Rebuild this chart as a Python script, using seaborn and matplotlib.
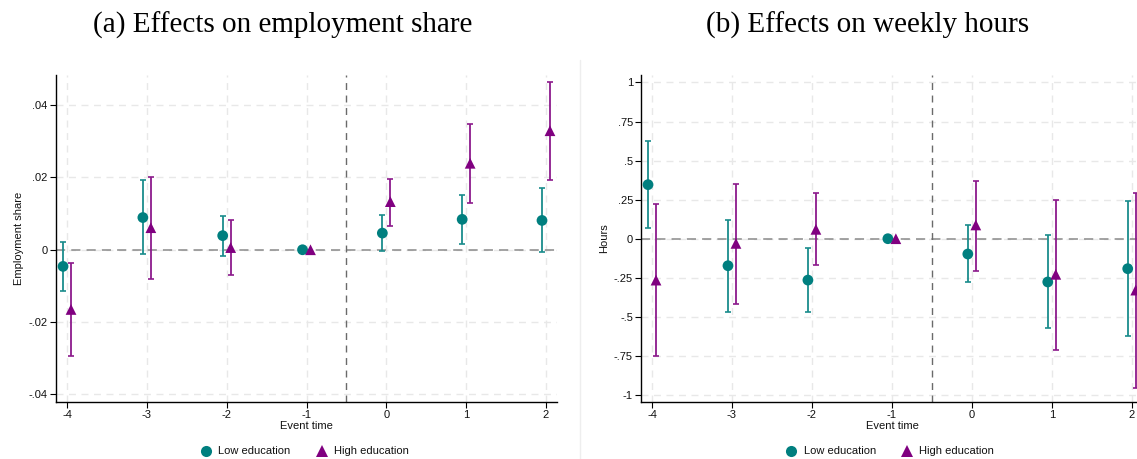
import numpy as np
import pandas as pd
import matplotlib
matplotlib.use("Agg")
import matplotlib.pyplot as plt
import seaborn as sns
from matplotlib.lines import Line2D
from matplotlib.ticker import FuncFormatter, FixedLocator

# ---- data -------------------------------------------------------------
event_time = [-4, -3, -2, -1, 0, 1, 2]
groups = ["Low education", "High education"]

# Employment share: point estimates and 95% CI bounds
emp_low = [-0.0046, 0.0089, 0.0039, 0.0, 0.0046, 0.0084, 0.0081]
emp_low_lo = [-0.0113, -0.0012, -0.0016, 0.0, -0.0004, 0.0017, -0.0006]
emp_low_hi = [0.0022, 0.0192, 0.0094, 0.0, 0.0095, 0.0152, 0.0170]
emp_high = [-0.0165, 0.0061, 0.0006, 0.0, 0.0133, 0.0239, 0.0329]
emp_high_lo = [-0.0294, -0.0081, -0.0071, 0.0, 0.0065, 0.0128, 0.0194]
emp_high_hi = [-0.0036, 0.0201, 0.0081, 0.0, 0.0195, 0.0347, 0.0463]

# Weekly hours: point estimates and 95% CI bounds
hrs_low = [0.346, -0.173, -0.265, 0.0, -0.098, -0.277, -0.192]
hrs_low_lo = [0.070, -0.470, -0.470, 0.0, -0.277, -0.574, -0.623]
hrs_low_hi = [0.623, 0.122, -0.058, 0.0, 0.085, 0.021, 0.241]
hrs_high = [-0.265, -0.030, 0.060, 0.0, 0.088, -0.228, -0.329]
hrs_high_lo = [-0.753, -0.416, -0.166, 0.0, -0.205, -0.711, -0.958]
hrs_high_hi = [0.220, 0.348, 0.290, 0.0, 0.371, 0.248, 0.290]

emp_yticks = [-0.04, -0.02, 0.0, 0.02, 0.04]
hrs_yticks = [-1, -0.75, -0.5, -0.25, 0, 0.25, 0.5, 0.75, 1]

# ---- style ------------------------------------------------------------
sns.set_style("white")
plt.rcParams["font.family"] = ["Liberation Sans", "DejaVu Sans"]
plt.rcParams["axes.unicode_minus"] = False

TEAL = "#007f7f"
PURPLE = "#800080"
TEAL_CI = "#1a8c8c"
PURPLE_CI = "#8c1a8c"
palette = {"Low education": TEAL, "High education": PURPLE}
markers = {"Low education": "o", "High education": "^"}
ci_colors = {"Low education": TEAL_CI, "High education": PURPLE_CI}
dodge = {"Low education": -0.05, "High education": 0.05}


def stata_fmt(v, pos):
    v = round(v, 4)
    if v == 0:
        return "0"
    s = f"{v:g}"
    return s.replace("0.", ".")


def build_frame(series):
    rows = []
    for g, (pt, lo, hi) in series.items():
        for t, p, l, h in zip(event_time, pt, lo, hi):
            rows.append({"event": t, "xpos": t + dodge[g], "group": g,
                         "value": p, "lo": l, "hi": h})
    return pd.DataFrame(rows)


def draw_panel(ax, df, yticks, ylim, xlim, ylabel, ylabel_x, xlabel_x):
    ax.set_xlim(*xlim)
    ax.set_ylim(*ylim)
    ax.xaxis.set_major_locator(FixedLocator(event_time))
    ax.yaxis.set_major_locator(FixedLocator(yticks))
    ax.yaxis.set_major_formatter(FuncFormatter(stata_fmt))
    ax.grid(True, color="#e8e8e8", linestyle=(0, (5, 4)), linewidth=1.0)
    ax.set_axisbelow(True)

    ax.axhline(0, color="#8a8a8a", linestyle=(0, (6, 4)), linewidth=1.1, zorder=1)
    ax.axvline(-0.5, color="#6a6a6a", linestyle=(0, (5, 4)), linewidth=1.0, zorder=1)

    for g in groups:
        sub = df[(df["group"] == g) & (df["hi"] > df["lo"])]
        ax.errorbar(sub["xpos"], sub["value"],
                    yerr=[sub["value"] - sub["lo"], sub["hi"] - sub["value"]],
                    fmt="none", ecolor=ci_colors[g], elinewidth=1.3,
                    capsize=2.3, capthick=1.2, zorder=2)

    sns.scatterplot(data=df, x="xpos", y="value", hue="group", style="group",
                    hue_order=groups, style_order=groups,
                    palette=palette, markers=markers, s=60,
                    edgecolor="none", linewidth=0, legend=False,
                    ax=ax, zorder=3)

    for side in ("top", "right"):
        ax.spines[side].set_visible(False)
    for side in ("left", "bottom"):
        ax.spines[side].set_color("black")
        ax.spines[side].set_linewidth(1.0)
    ax.tick_params(axis="both", direction="out", length=4, width=0.8,
                   color="black", labelsize=8, pad=2, labelcolor="#111111")
    ax.tick_params(axis="x", bottom=True)
    ax.tick_params(axis="y", left=True)

    ax.set_ylabel(ylabel, fontsize=8, color="#111111")
    ax.set_xlabel("Event time", fontsize=8, color="#111111")
    ax.yaxis.set_label_coords(ylabel_x, 0.5)
    ax.xaxis.set_label_coords(xlabel_x, -0.058)


emp_df = build_frame({
    "Low education": (emp_low, emp_low_lo, emp_low_hi),
    "High education": (emp_high, emp_high_lo, emp_high_hi),
})
hrs_df = build_frame({
    "Low education": (hrs_low, hrs_low_lo, hrs_low_hi),
    "High education": (hrs_high, hrs_high_lo, hrs_high_hi),
})

W, H = 1137, 459
fig = plt.figure(figsize=(W / 100, H / 100), dpi=100)
fig.patch.set_facecolor("white")

bottom = 1 - 401.7 / H
height = (401.7 - 75) / H
ax1 = fig.add_axes([55.7 / W, bottom, (557 - 55.7) / W, height])
ax2 = fig.add_axes([641.3 / W, bottom, (W - 641.3) / W, height])

draw_panel(ax1, emp_df, emp_yticks, (-0.0420, 0.0483), (-4.142, 2.138),
           "Employment share", -0.064, 0.5)
draw_panel(ax2, hrs_df, hrs_yticks, (-1.0435, 1.048), (-4.134, 2.066),
           "Hours", -0.064, 0.506)

# faint border separating the two panels
fig.add_artist(Line2D([580 / W, 580 / W], [0, 1 - 60 / H],
                      transform=fig.transFigure, color="#eeeeee", linewidth=1.0))

# panel titles
title_kw = dict(ha="center", va="center", fontsize=21,
                family=["Liberation Serif", "DejaVu Serif"], color="black")
fig.text(283 / W, 1 - 25 / H, "(a) Effects on employment share", **title_kw)
fig.text(867.5 / W, 1 - 25 / H, "(b) Effects on weekly hours", **title_kw)

# legends beneath each panel
handles = [
    Line2D([], [], linestyle="none", marker=markers[g], color=palette[g],
           markersize=8, markeredgewidth=0)
    for g in groups
]
for cx in (304.5 / W, 890 / W):
    fig.legend(handles, groups, loc="center", bbox_to_anchor=(cx, 1 - 451.5 / H),
               ncol=2, frameon=False, fontsize=8, handlelength=1.0,
               handletextpad=0.6, columnspacing=2.3, borderaxespad=0,
               labelcolor="#111111")

fig.savefig("out.png", dpi=100, facecolor="white")
